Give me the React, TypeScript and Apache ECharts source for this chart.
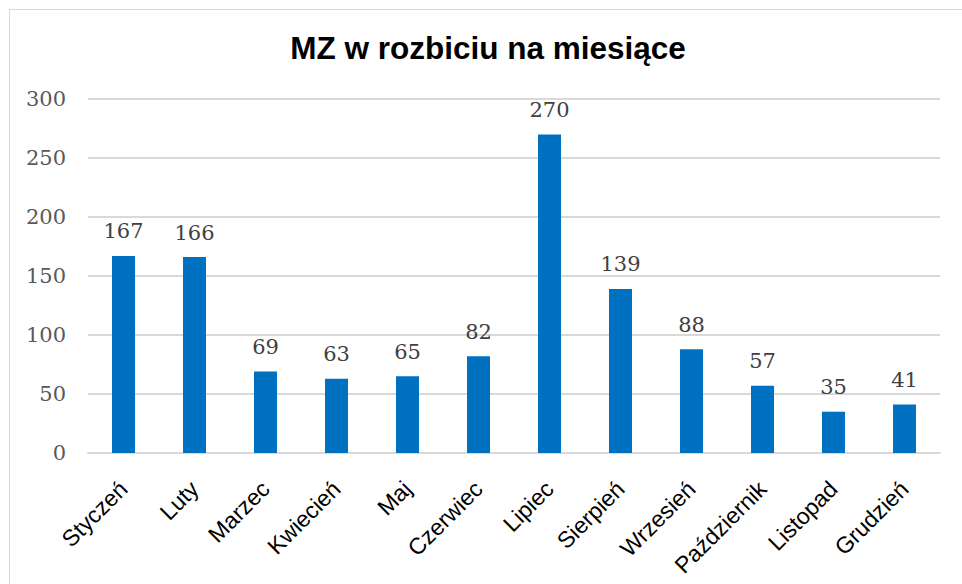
import React, { useEffect, useRef } from "react";
import * as echarts from "echarts";

const months = ["Styczeń", "Luty", "Marzec", "Kwiecień", "Maj", "Czerwiec", "Lipiec", "Sierpień", "Wrzesień", "Październik", "Listopad", "Grudzień"];
const values = [167, 166, 69, 63, 65, 82, 270, 139, 88, 57, 35, 41];
const titleText = "MZ w rozbiciu na miesiące";

export default function App() {
  const ref = useRef<HTMLDivElement>(null);
  useEffect(() => {
    const chart = echarts.init(ref.current!, null, { renderer: "svg" });
    chart.setOption({
      animation: false,
      backgroundColor: "#ffffff",
      graphic: [
        { type: "line", shape: { x1: 9.5, y1: 9.5, x2: 962, y2: 9.5 }, style: { stroke: "#d9d9d9", lineWidth: 1 } },
        { type: "line", shape: { x1: 9.5, y1: 9.5, x2: 9.5, y2: 584 }, style: { stroke: "#d9d9d9", lineWidth: 1 } },
        {
          type: "text",
          x: 488,
          y: 48,
          style: {
            text: titleText,
            font: "bold 31.5px 'Liberation Sans', Arial, sans-serif",
            fill: "#000000",
            align: "center",
            verticalAlign: "middle",
          },
        },
      ],
      grid: { left: 88, right: 22, top: 99, bottom: 131, containLabel: false },
      xAxis: {
        type: "category",
        data: months,
        axisLine: { show: true, lineStyle: { color: "#d9d9d9", width: 2 } },
        axisTick: { show: false },
        axisLabel: {
          rotate: 45,
          interval: 0,
          margin: 32,
          color: "#000000",
          fontSize: 23,
          fontFamily: "'Liberation Sans', Arial, sans-serif",
        },
      },
      yAxis: {
        type: "value",
        min: 0,
        max: 300,
        interval: 50,
        axisLine: { show: false },
        axisTick: { show: false },
        splitLine: { lineStyle: { color: "#d9d9d9", width: 2 } },
        axisLabel: {
          margin: 22,
          color: "#595959",
          fontSize: 21,
          fontFamily: "'DejaVu Serif', 'Liberation Serif', serif",
        },
      },
      series: [
        {
          type: "bar",
          data: values,
          barWidth: 23,
          itemStyle: { color: "#0070C0" },
          label: {
            show: true,
            position: "top",
            distance: 14,
            color: "#404040",
            fontSize: 21,
            fontFamily: "'DejaVu Serif', 'Liberation Serif', serif",
          },
        },
      ],
    });
    return () => chart.dispose();
  }, []);
  return <div ref={ref} style={{ width: 962, height: 584, position: "absolute", left: 0, top: 0 }} />;
}
